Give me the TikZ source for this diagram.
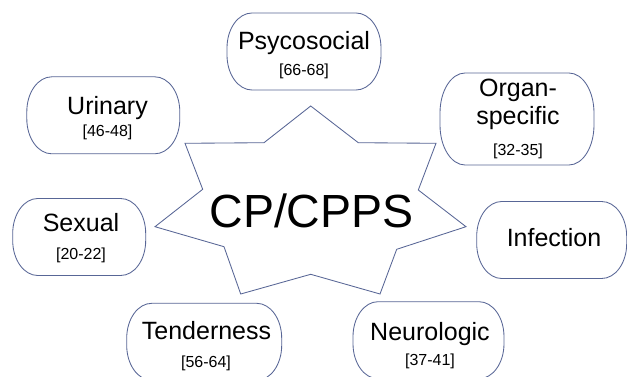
\documentclass[tikz,border=0pt]{standalone}
\usepackage{fontspec}
\setmainfont{Liberation Sans}
\usetikzlibrary{calc}
\definecolor{edge}{RGB}{88,102,150}
\tikzset{
  boxnode/.style={draw=none, inner sep=0pt, outer sep=0pt},
  boxline/.style={draw=edge, line width=0.85pt},
  startline/.style={draw=edge, line width=0.85pt, line join=miter, fill=white},
  title/.style={font=\fontsize{25}{30}\selectfont, anchor=base, inner sep=0pt},
  refs/.style={font=\fontsize{16}{19}\selectfont, anchor=base, inner sep=0pt},
  bigtitle/.style={font=\fontsize{46.5}{52}\selectfont, anchor=base, inner sep=0pt},
}
\newcommand{\rx}{25}
\newcommand{\drawovalbox}[2]{%
  \draw[boxline] ($(#1.north west)+(\rx,0)$) -- ($(#1.north east)+(-\rx,0)$)
    arc[start angle=-90,end angle=0,x radius=\rx,y radius=#2]
    -- ($(#1.south east)+(0,-#2)$)
    arc[start angle=0,end angle=90,x radius=\rx,y radius=#2]
    -- ($(#1.south west)+(\rx,0)$)
    arc[start angle=90,end angle=180,x radius=\rx,y radius=#2]
    -- ($(#1.north west)+(0,#2)$)
    arc[start angle=180,end angle=270,x radius=\rx,y radius=#2]
    -- cycle;}
\begin{document}
\begin{tikzpicture}[x=1pt,y=-1pt]
\useasboundingbox[fill=white] (0,0) rectangle (627,377);
% star
\draw[startline] (310.7,106) -- (358.3,142.7) -- (436,143.3) -- (418.3,190)
  -- (466,226.7) -- (396.7,249.3) -- (380,294) -- (310.7,274.3)
  -- (240.7,294) -- (224,246.7) -- (155,226.7) -- (202.7,189.3)
  -- (185,143.3) -- (264,142.7) -- cycle;
\node[bigtitle] (cp) at (311.5,227) {CP/CPPS};
% boxes
\node[boxnode, minimum width=154pt, minimum height=77pt] (psy) at (304,51.5) {};
\node[boxnode, minimum width=153pt, minimum height=77pt] (uri) at (103.3,115.3) {};
\node[boxnode, minimum width=154pt, minimum height=92pt] (org) at (517,119) {};
\node[boxnode, minimum width=133pt, minimum height=77pt] (sex) at (79.2,237) {};
\node[boxnode, minimum width=150pt, minimum height=77pt] (inf) at (551.7,240) {};
\node[boxnode, minimum width=155pt, minimum height=77pt] (ten) at (204.2,341.8) {};
\node[boxnode, minimum width=151pt, minimum height=77pt] (neu) at (428.5,340.2) {};
\foreach \n in {psy,uri,sex,inf,ten,neu} {\drawovalbox{\n}{35}}
\drawovalbox{org}{40}
% texts
\node[title] (psyT) at (304,50) {Psycosocial};
\node[refs]  (psyR) at (304,76) {[66-68]};
\node[title] (uriT) at (107.5,115) {Urinary};
\node[refs]  (uriR) at (107.5,136.5) {[46-48]};
\node[title] (orgT) at (518,97) {Organ-};
\node[title] (orgS) at (518,125) {specific};
\node[refs]  (orgR) at (518,156) {[32-35]};
\node[title] (sexT) at (81,232) {Sexual};
\node[refs]  (sexR) at (81,259) {[20-22]};
\node[title] (infT) at (554,246) {Infection};
\node[title] (tenT) at (206.5,339.3) {Tenderness};
\node[refs]  (tenR) at (206,367) {[56-64]};
\node[title] (neuT) at (430,340) {Neurologic};
\node[refs]  (neuR) at (430,365) {[37-41]};
\end{tikzpicture}
\end{document}
